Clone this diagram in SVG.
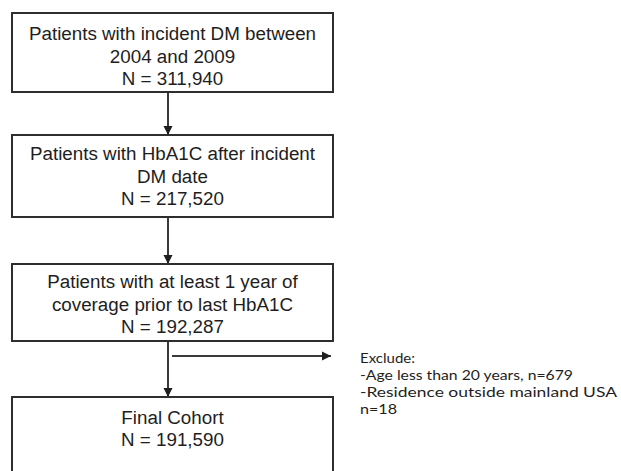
<svg xmlns="http://www.w3.org/2000/svg" width="621" height="471" viewBox="0 0 621 471">
<style>
.box{fill:#fff;stroke:#2e2e2e;stroke-width:2}
.t{font-family:"Liberation Sans",Arial,sans-serif;font-size:18.8px;fill:#1e1e1e;text-anchor:middle}
.ex{font-family:Lato,"Liberation Sans",sans-serif;font-size:14px;fill:#1e1e1e}
.c{stroke:#3a3a3a;stroke-width:2;fill:none}
</style>
<defs>
<marker id="ah" viewBox="0 0 10 10" refX="10" refY="5" markerWidth="9" markerHeight="10" markerUnits="userSpaceOnUse" orient="auto">
<path d="M0,0 L10,5 L0,10 Z" fill="#1e1e1e"/>
</marker>
</defs>
<rect width="621" height="471" fill="#fff"/>
<g id="connectors">
<line class="c" x1="168" y1="92" x2="168" y2="135" marker-end="url(#ah)"/>
<line class="c" x1="168" y1="217" x2="168" y2="264" marker-end="url(#ah)"/>
<line class="c" x1="168" y1="341" x2="168" y2="397" marker-end="url(#ah)"/>
<line class="c" x1="172" y1="356" x2="331" y2="356" marker-end="url(#ah)"/>
</g>
<g id="n1">
<rect class="box" x="12" y="13" width="321" height="79"/>
<text class="t" x="172.5" y="40">Patients with incident DM between</text>
<text class="t" x="172.5" y="63">2004 and 2009</text>
<text class="t" x="172.5" y="85">N = 311,940</text>
</g>
<g id="n2">
<rect class="box" x="12" y="135" width="321" height="82"/>
<text class="t" x="172.5" y="160">Patients with HbA1C after incident</text>
<text class="t" x="172.5" y="183">DM date</text>
<text class="t" x="172.5" y="205">N = 217,520</text>
</g>
<g id="n3">
<rect class="box" x="12" y="264" width="321" height="77"/>
<text class="t" x="172.5" y="288">Patients with at least 1 year of</text>
<text class="t" x="172.5" y="311">coverage prior to last HbA1C</text>
<text class="t" x="172.5" y="333">N = 192,287</text>
</g>
<g id="n4">
<rect class="box" x="12" y="397" width="321" height="95"/>
<text class="t" x="172.5" y="424">Final Cohort</text>
<text class="t" x="172.5" y="446">N = 191,590</text>
</g>
<g id="exclude">
<text class="ex" x="360" y="363" textLength="55" lengthAdjust="spacingAndGlyphs">Exclude:</text>
<text class="ex" x="360" y="380" textLength="213" lengthAdjust="spacingAndGlyphs">-Age less than 20 years, n=679</text>
<text class="ex" x="360" y="397" textLength="257" lengthAdjust="spacingAndGlyphs">-Residence outside mainland USA</text>
<text class="ex" x="360" y="414" textLength="37" lengthAdjust="spacingAndGlyphs">n=18</text>
</g>
</svg>
